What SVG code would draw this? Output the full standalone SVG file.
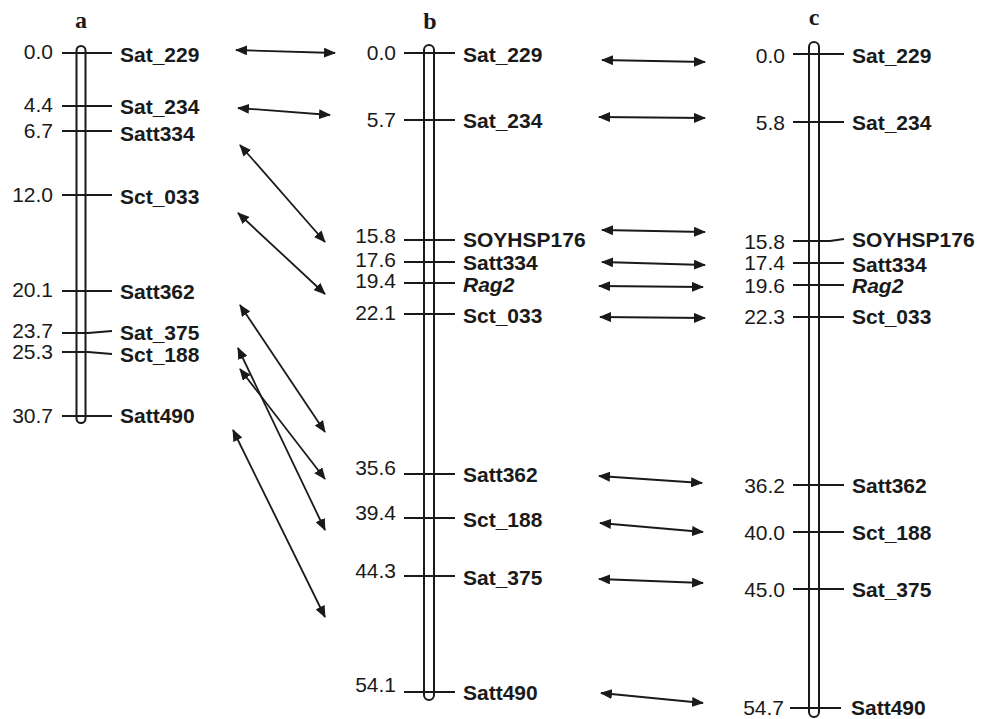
<svg xmlns="http://www.w3.org/2000/svg" width="993" height="719" viewBox="0 0 993 719">
<style>
.num{font-family:"Liberation Sans",Arial,sans-serif;font-size:21px;fill:#1a1a1a;text-anchor:end}
.lab{font-family:"Liberation Sans",Arial,sans-serif;font-size:21px;font-weight:bold;fill:#1a1a1a}
.it{font-style:italic}
.ttl{font-family:"Liberation Serif","Times New Roman",serif;font-size:24px;font-weight:bold;fill:#1a1a1a;text-anchor:middle}
.bar{fill:#fff;stroke:#1a1a1a;stroke-width:2}
.tk{fill:none;stroke:#1a1a1a;stroke-width:2}
.con{stroke:#1a1a1a;stroke-width:1.8;fill:none;marker-start:url(#ah);marker-end:url(#ah)}
</style>
<defs>
<marker id="ah" viewBox="0 0 12 10" refX="11" refY="5" markerWidth="12" markerHeight="10" markerUnits="userSpaceOnUse" orient="auto-start-reverse">
<path d="M0,0 L12,5 L0,10 Z" fill="#1a1a1a"/>
</marker>
</defs>

<g id="chrom-a">
<text class="ttl" x="81" y="28">a</text>
<rect class="bar" x="76.5" y="46" width="9" height="377" rx="4.5"/>
<path class="tk" d="M62,53H112M62,106H112M62,131H112M62,195H112M62,291H112M62,333H88L112,331M62,352H88L112,354M62,416H112"/>
<text class="num" x="53" y="59">0.0</text>
<text class="num" x="53" y="112">4.4</text>
<text class="num" x="53" y="138">6.7</text>
<text class="num" x="53" y="202">12.0</text>
<text class="num" x="53" y="297">20.1</text>
<text class="num" x="53" y="338">23.7</text>
<text class="num" x="53" y="359">25.3</text>
<text class="num" x="53" y="423">30.7</text>
<text class="lab" x="120" y="62">Sat_229</text>
<text class="lab" x="120" y="114">Sat_234</text>
<text class="lab" x="120" y="141">Satt334</text>
<text class="lab" x="120" y="204">Sct_033</text>
<text class="lab" x="120" y="299">Satt362</text>
<text class="lab" x="120" y="340">Sat_375</text>
<text class="lab" x="120" y="362">Sct_188</text>
<text class="lab" x="120" y="423">Satt490</text>
</g>

<g id="chrom-b">
<text class="ttl" x="430" y="29">b</text>
<rect class="bar" x="424" y="45" width="10" height="655" rx="5"/>
<path class="tk" d="M404,53H455M404,120H455M404,240H455M404,262H455M404,283H455M404,314H455M404,474H455M404,518H455M404,576H455M404,692H455"/>
<text class="num" x="396" y="60">0.0</text>
<text class="num" x="396" y="127">5.7</text>
<text class="num" x="396" y="243">15.8</text>
<text class="num" x="396" y="267">17.6</text>
<text class="num" x="396" y="288">19.4</text>
<text class="num" x="396" y="320">22.1</text>
<text class="num" x="396" y="475">35.6</text>
<text class="num" x="396" y="520">39.4</text>
<text class="num" x="396" y="578">44.3</text>
<text class="num" x="396" y="692">54.1</text>
<text class="lab" x="463" y="62">Sat_229</text>
<text class="lab" x="463" y="128">Sat_234</text>
<text class="lab" x="463" y="247">SOYHSP176</text>
<text class="lab" x="463" y="270">Satt334</text>
<text class="lab it" x="463" y="292">Rag2</text>
<text class="lab" x="463" y="323">Sct_033</text>
<text class="lab" x="463" y="482">Satt362</text>
<text class="lab" x="463" y="527">Sct_188</text>
<text class="lab" x="463" y="585">Sat_375</text>
<text class="lab" x="463" y="700">Satt490</text>
</g>

<g id="chrom-c">
<text class="ttl" x="814" y="25">c</text>
<rect class="bar" x="809" y="42" width="10" height="675" rx="5"/>
<path class="tk" d="M793,54H844M793,122H844M793,241H830L844,239M793,263H844M793,285H844M793,317H844M793,485H844M793,532H844M793,589H844M790,708H841"/>
<text class="num" x="785" y="63">0.0</text>
<text class="num" x="785" y="130">5.8</text>
<text class="num" x="785" y="249">15.8</text>
<text class="num" x="785" y="270">17.4</text>
<text class="num" x="785" y="293">19.6</text>
<text class="num" x="785" y="324">22.3</text>
<text class="num" x="785" y="493">36.2</text>
<text class="num" x="785" y="540">40.0</text>
<text class="num" x="785" y="597">45.0</text>
<text class="num" x="784" y="715">54.7</text>
<text class="lab" x="852" y="63">Sat_229</text>
<text class="lab" x="852" y="130">Sat_234</text>
<text class="lab" x="852" y="247">SOYHSP176</text>
<text class="lab" x="852" y="272">Satt334</text>
<text class="lab it" x="852" y="293">Rag2</text>
<text class="lab" x="852" y="324">Sct_033</text>
<text class="lab" x="852" y="493">Satt362</text>
<text class="lab" x="852" y="540">Sct_188</text>
<text class="lab" x="852" y="597">Sat_375</text>
<text class="lab" x="851" y="715">Satt490</text>
</g>

<g id="connectors">
<path class="con" d="M236,50L335,53"/>
<path class="con" d="M238,108L330,115"/>
<path class="con" d="M240,145L325,242"/>
<path class="con" d="M238,213L325,294"/>
<path class="con" d="M240,305L325,432"/>
<path class="con" d="M238,348L325,530"/>
<path class="con" d="M240,369L325,479"/>
<path class="con" d="M233,430L325,617"/>
<path class="con" d="M602,60L705,62"/>
<path class="con" d="M599,117L705,118"/>
<path class="con" d="M602,230L705,232"/>
<path class="con" d="M602,262L705,265"/>
<path class="con" d="M599,286L703,287"/>
<path class="con" d="M600,317L705,318"/>
<path class="con" d="M599,476L702,483"/>
<path class="con" d="M600,523L703,532"/>
<path class="con" d="M599,579L703,583"/>
<path class="con" d="M601,693L703,703"/>
</g>
</svg>
